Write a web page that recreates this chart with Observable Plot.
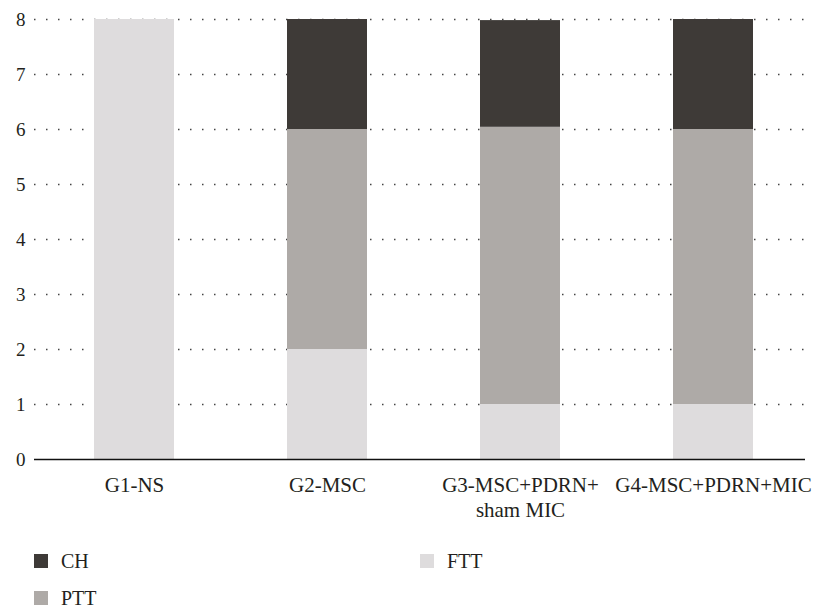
<!DOCTYPE html>
<html>
<head>
<meta charset="utf-8">
<script src="https://cdn.jsdelivr.net/npm/d3@7"></script>
<script src="https://cdn.jsdelivr.net/npm/@observablehq/plot@0.6"></script>
<style>
  html, body { margin: 0; padding: 0; background: #fff; }
  #wrap { position: relative; width: 813px; height: 612px; font-family: "Liberation Serif", serif; color: #231f20; }
  #wrap svg text { font-family: "Liberation Serif", serif; }
  .leg { position: absolute; display: flex; align-items: center; font-size: 20px; }
  .leg .sw { width: 14px; height: 14px; margin-right: 13px; }
</style>
</head>
<body>
<div id="wrap"></div>
<script>
const groups = ["G1-NS", "G2-MSC", "G3-MSC+PDRN+\nsham MIC", "G4-MSC+PDRN+MIC"];
const seriesNames = ["FTT", "PTT", "CH"];
const fttValues = [8, 2, 1, 1];
const pttValues = [0, 4, 5.04, 5];
const chValues = [0, 2, 1.94, 2];
const colors = {CH: "#3e3a37", PTT: "#aeaaa7", FTT: "#dedcdd"};
const yTicks = [0, 1, 2, 3, 4, 5, 6, 7, 8];
const gridTicks = [1, 2, 3, 4, 5, 6, 7, 8];

const data = [];
groups.forEach((g, i) => {
  data.push({group: g, series: "FTT", value: fttValues[i]});
  data.push({group: g, series: "PTT", value: pttValues[i]});
  data.push({group: g, series: "CH", value: chValues[i]});
});

const chart = Plot.plot({
  width: 813,
  height: 530,
  marginTop: 8,
  marginBottom: 71,
  marginLeft: 34,
  marginRight: 8,
  style: {fontFamily: "'Liberation Serif', serif", color: "#231f20", background: "#fff"},
  x: {domain: groups, paddingInner: 0.5876, paddingOuter: 0.281, align: 0.532, label: null},
  y: {domain: [0, 8.2], label: null},
  color: {domain: Object.keys(colors), range: Object.values(colors)},
  marks: [
    Plot.ruleY(gridTicks, {stroke: "#444", strokeWidth: 1.5, strokeDasharray: "1.5,10.5", strokeOpacity: 1}),
    Plot.barY(data, Plot.stackY({order: seriesNames}, {x: "group", y: "value", fill: "series"})),
    Plot.axisY(yTicks, {tickSize: 0, tickPadding: 9, fontSize: 19, label: null, tickFormat: d => String(d)}),
    Plot.axisX({tickSize: 0, tickPadding: 15, fontSize: 21, lineHeight: 1.19, label: null}),
    Plot.ruleX([0], {stroke: "#555", strokeWidth: 1.5, y1: 0, y2: 8.2}),
    Plot.ruleY([0], {stroke: "#111", strokeWidth: 1.5})
  ]
});
const wrap = document.getElementById("wrap");
wrap.appendChild(chart);

const legendItems = [
  {name: "CH", left: 34, top: 561},
  {name: "FTT", left: 420, top: 561},
  {name: "PTT", left: 34, top: 598}
];
legendItems.forEach(it => {
  const el = document.createElement("div");
  el.className = "leg";
  el.style.left = it.left + "px";
  el.style.top = (it.top - 12) + "px";
  el.style.height = "24px";
  const sw = document.createElement("div");
  sw.className = "sw";
  sw.style.background = colors[it.name];
  const tx = document.createElement("span");
  tx.textContent = it.name;
  el.appendChild(sw);
  el.appendChild(tx);
  wrap.appendChild(el);
});
</script>
</body>
</html>
